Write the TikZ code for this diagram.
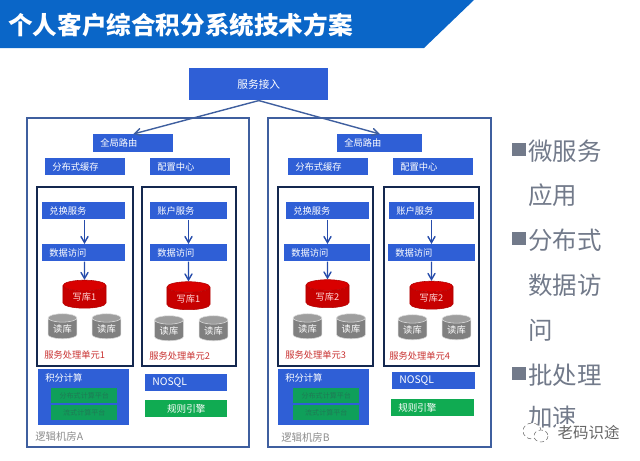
\documentclass[tikz,border=0pt]{standalone}
\usepackage{fontspec}
\setmainfont{Noto Sans CJK SC}
\usetikzlibrary{arrows,calc,positioning,shapes.geometric}
\definecolor{bannerblue}{HTML}{0A66C8}
\definecolor{svcblue}{HTML}{2F5FD6}
\definecolor{roomline}{HTML}{3F5F9F}
\definecolor{unitline}{HTML}{14284F}
\definecolor{rulegreen}{HTML}{10AB52}
\definecolor{innergreen}{HTML}{0F9F5A}
\definecolor{innertext}{HTML}{1F7A55}
\definecolor{bulletgrey}{HTML}{727A8A}
\definecolor{labelred}{HTML}{C8302F}
\tikzset{
  svcbox/.style={rectangle, fill=svcblue, text=white, anchor=north west, font=\fontsize{6.6pt}{7pt}\selectfont,
    inner xsep=0.175cm, inner ysep=0pt, minimum height=0.425cm, align=left, text width=#1*0.025cm-0.35cm},
  unitbox/.style={draw=unitline, line width=1pt},
  roombox/.style={draw=roomline, line width=1pt},
  writedb/.style={cylinder, shape border rotate=90, aspect=0.45, minimum width=1.075cm, minimum height=0.7cm,
    inner sep=0pt, cylinder uses custom fill, cylinder body fill=red!78!black, cylinder end fill=red!85!black,
    text=white!85!red, draw=red!70!black, font=\fontsize{6.6pt}{7pt}\selectfont},
  readdb/.style={cylinder, shape border rotate=90, aspect=0.45, minimum width=0.72cm, minimum height=0.625cm,
    inner sep=0pt, cylinder uses custom fill, cylinder body fill=black!50, cylinder end fill=black!38,
    text=white, draw=black!15, font=\fontsize{6.6pt}{7pt}\selectfont},
  unitlabel/.style={anchor=west, inner sep=0pt, text=labelred, font=\fontsize{6.6pt}{7pt}\selectfont},
  roomlabel/.style={anchor=west, inner sep=0pt, text=black!45, font=\fontsize{7.4pt}{8pt}\selectfont},
  innerbox/.style={rectangle, fill=innergreen, text=innertext, anchor=north west, inner sep=0pt,
    minimum width=1.65cm, minimum height=0.37cm, font=\fontsize{5pt}{6pt}\selectfont},
  bullettext/.style={anchor=west, inner sep=0pt, text=bulletgrey, font=\fontsize{17.4pt}{18pt}\selectfont},
  bulletmark/.style={rectangle, fill=bulletgrey, inner sep=0pt, minimum width=0.35cm, minimum height=0.33cm},
  linkarrow/.style={->, >=angle 60, color=svcblue!80!black, line width=1pt}
}
\begin{document}
\begin{tikzpicture}[x=0.025cm, y=-0.025cm]
    \useasboundingbox (0,0) rectangle (640,461);
    % ---- title banner
    \fill[bannerblue] (0,0) -- (474,0) -- (424,48) -- (0,48) -- cycle;
    \node[anchor=west, inner sep=0pt, text=white, font=\fontsize{17.5pt}{18pt}\selectfont\bfseries] (title) at (8,25) {个人客户综合积分系统技术方案};
    % ---- top entry
    \node[svcbox=139, minimum height=0.8cm, align=center, font=\fontsize{7.6pt}{8pt}\selectfont] (entry) at (189,68) {服务接入};
    % ---- left room
    \draw[roombox] (27,118) rectangle (249,447);
    \node[svcbox=80, minimum height=0.45cm] (routeA) at (93,134) {全局路由};
    \node[svcbox=80] (cacheA) at (45,158) {分布式缓存};
    \node[svcbox=80] (configA) at (150,158) {配置中心};
    % unit 1
    \draw[unitbox] (37,187) rectangle (133,366);
    \node[svcbox=83] (swapA) at (42,202) {兑换服务};
    \node[svcbox=83] (dataA) at (42,244) {数据访问};
    \node[writedb] (writeA) at (84.5,297) {写库1};
    \node[readdb] (readA) at (62.5,328.5) {读库};
    \node[readdb] (readB) at (106.5,328.5) {读库};
    \node[unitlabel] (unitA) at (44,355) {服务处理单元1};
    \draw[linkarrow] (swapA.south -| writeA) -- (dataA.north -| writeA);
    \draw[linkarrow] (dataA.south -| writeA) -- (writeA.north);
    % unit 2
    \draw[unitbox] (142,187) rectangle (236,366);
    \node[svcbox=77] (acctA) at (150,202) {账户服务};
    \node[svcbox=77] (dataB) at (150,244) {数据访问};
    \node[writedb] (writeB) at (188.5,298.5) {写库1};
    \node[readdb] (readC) at (169,330.5) {读库};
    \node[readdb] (readD) at (213.5,330.5) {读库};
    \node[unitlabel] (unitB) at (149,356) {服务处理单元2};
    \draw[linkarrow] (acctA.south -| writeB) -- (dataB.north -| writeB);
    \draw[linkarrow] (dataB.south -| writeB) -- (writeB.north);
    % bottom row
    \fill[svcblue] (38,369) rectangle (129,425);
    \node[anchor=west, inner sep=0pt, text=white, font=\fontsize{6.6pt}{7pt}\selectfont] (scoreA) at (45,378) {积分计算};
    \node[innerbox] (batchA) at (51,388) {分布式计算平台};
    \node[innerbox] (streamA) at (51,405) {流式计算平台};
    \node[svcbox=82, font=\fontsize{7.4pt}{8pt}\selectfont] (nosqlA) at (145,374) {NOSQL};
    \node[svcbox=82, fill=rulegreen, align=center, font=\fontsize{6.8pt}{7pt}\selectfont] (ruleA) at (145,400) {规则引擎};
    \node[roomlabel] (roomA) at (35,437) {逻辑机房A};
    % ---- right room
    \draw[roombox] (268,118) rectangle (491,447);
    \node[svcbox=85, minimum height=0.45cm] (routeB) at (337,134) {全局路由};
    \node[svcbox=80] (cacheB) at (288,158) {分布式缓存};
    \node[svcbox=80] (configB) at (393,158) {配置中心};
    % unit 3
    \draw[unitbox] (278,187) rectangle (373,366);
    \node[svcbox=83] (swapB) at (286,202) {兑换服务};
    \node[svcbox=86] (dataC) at (284,244) {数据访问};
    \node[writedb] (writeC) at (327.5,296.5) {写库2};
    \node[readdb] (readE) at (307.5,328.5) {读库};
    \node[readdb] (readF) at (351,328.5) {读库};
    \node[unitlabel] (unitC) at (285,355) {服务处理单元3};
    \draw[linkarrow] (swapB.south -| writeC) -- (dataC.north -| writeC);
    \draw[linkarrow] (dataC.south -| writeC) -- (writeC.north);
    % unit 4
    \draw[unitbox] (384,187) rectangle (479,366);
    \node[svcbox=85] (acctB) at (389,202) {账户服务};
    \node[svcbox=87] (dataD) at (388,244) {数据访问};
    \node[writedb] (writeD) at (431.5,298) {写库2};
    \node[readdb] (readG) at (412.5,329.5) {读库};
    \node[readdb] (readH) at (456.5,329.5) {读库};
    \node[unitlabel] (unitD) at (389,356) {服务处理单元4};
    \draw[linkarrow] (acctB.south -| writeD) -- (dataD.north -| writeD);
    \draw[linkarrow] (dataD.south -| writeD) -- (writeD.north);
    % bottom row
    \fill[svcblue] (278,369) rectangle (369,425);
    \node[anchor=west, inner sep=0pt, text=white, font=\fontsize{6.6pt}{7pt}\selectfont] (scoreB) at (285,378) {积分计算};
    \node[innerbox] (batchB) at (293,388) {分布式计算平台};
    \node[innerbox] (streamB) at (293,405) {流式计算平台};
    \node[svcbox=83, font=\fontsize{7.4pt}{8pt}\selectfont] (nosqlB) at (392,372) {NOSQL};
    \node[svcbox=83, fill=rulegreen, font=\fontsize{6.8pt}{7pt}\selectfont] (ruleB) at (391,399) {规则引擎};
    \node[roomlabel] (roomB) at (281,438) {逻辑机房B};
    % the links from the entry to the two rooms
    \draw[linkarrow, color=roomline] (entry.south) -- (routeA.north);
    \draw[linkarrow, color=roomline] (entry.south) -- (routeB.north);
    % ---- right column
    \node[bulletmark] (markA) at (519,149.5) {};
    \node[bullettext] (lineA) at (528,151) {微服务};
    \node[bullettext] (lineB) at (528,195) {应用};
    \node[bulletmark] (markB) at (519,238.5) {};
    \node[bullettext] (lineC) at (528,240) {分布式};
    \node[bullettext] (lineD) at (528,285) {数据访};
    \node[bullettext] (lineE) at (528,330) {问};
    \node[bulletmark] (markC) at (519,373.5) {};
    \node[bullettext] (lineF) at (528,375) {批处理};
    \node[bullettext] (lineG) at (528,417) {加速};
    % ---- watermark
    \draw[black!55, densely dashed, fill=white] (532,431) ellipse (9 and 8);
    \draw[black!55, densely dashed, fill=white] (541,436) ellipse (7 and 6);
    \node[anchor=west, inner sep=1pt, fill=white, text=black!60, font=\fontsize{11pt}{12pt}\selectfont] (mark) at (556,433) {老码识途};
\end{tikzpicture}
\end{document}
